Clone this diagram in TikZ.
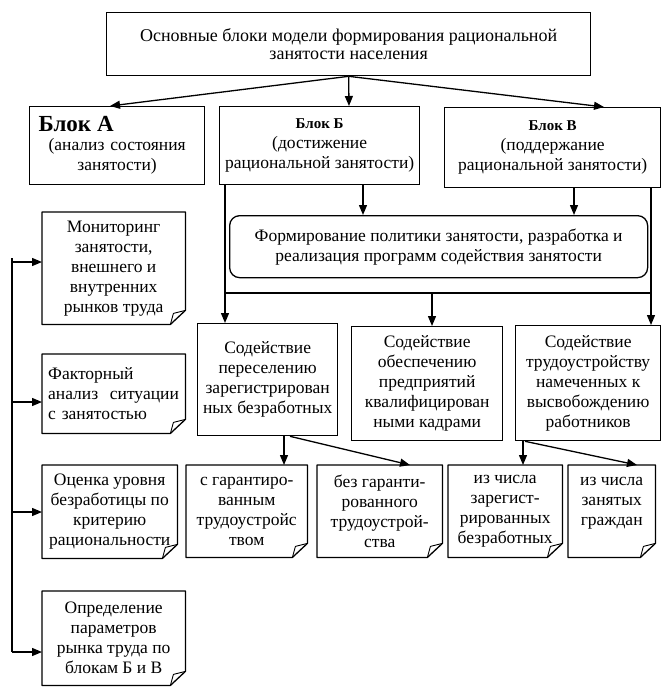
\documentclass[tikz,border=0pt]{standalone}
\usepackage{fontspec}
\setmainfont{Liberation Serif}
\usetikzlibrary{arrows.meta,calc}
\newcommand\foldnote[1]{%
  \draw[ln,line join=round] (#1.north west) -- (#1.north east) -- ([yshift=14pt]#1.south east)
    -- ([xshift=-15pt]#1.south east) -- (#1.south west) -- cycle;
  \draw[line width=0.9pt,line join=round] ([xshift=-15pt]#1.south east) -- ([xshift=-12pt,yshift=11pt]#1.south east)
    -- ([yshift=14pt]#1.south east);}
\begin{document}
\begin{tikzpicture}[x=1pt,y=-1pt,
  ln/.style={line width=1.3pt},
  base/.style={inner sep=0pt,anchor=north west,align=center,
    font=\fontsize{17.5}{20}\selectfont},
  box/.style={base,draw,line width=1.3pt},
  note/.style={base},
  arr/.style={line width=1.3pt,-{Triangle[length=10pt,width=8pt]}}]
\useasboundingbox (0,0) rectangle (667,694);

% top
\node[box,minimum width=484pt,minimum height=63pt,font=\fontsize{18}{18.5}\selectfont] (top) at (106,12)
  {Основные блоки модели формирования рациональной\\занятости населения};

% blocks
\node[box,minimum width=175pt,minimum height=78pt,text width=175pt] (A) at (29,106)
  {\makebox[175pt][l]{\hspace{9pt}\fontsize{23}{24}\selectfont\bfseries Блок А}\\[-1pt](анализ состояния\\занятости)};
\node[box,minimum width=200pt,minimum height=78pt] (B) at (219,106)
  {{\fontsize{15}{16}\selectfont\bfseries Блок Б}\\(достижение\\рациональной занятости)};
\node[box,minimum width=216pt,minimum height=80pt] (V) at (444,107)
  {{\fontsize{15}{16}\selectfont\bfseries Блок В}\\(поддержание\\рациональной занятости)};

% policy
\node[box,rounded corners=10pt,minimum width=418pt,minimum height=62pt] (pol) at (229,215)
  {Формирование политики занятости, разработка и\\реализация программ содействия занятости};

% left notes
\node[note,minimum width=143pt,minimum height=112pt] (mon) at (42,212)
  {Мониторинг\\занятости,\\внешнего и\\внутренних\\рынков труда};
\node[note,minimum width=143pt,minimum height=79pt,text width=131pt,align=left] (fak) at (42,354)
  {Факторный\\анализ\ \ ситуации\\с занятостью};
\node[note,minimum width=135pt,minimum height=93pt] (oc) at (42,465)
  {Оценка уровня\\безработицы по\\критерию\\рациональности};
\node[note,minimum width=143pt,minimum height=94pt] (opr) at (42,591)
  {Определение\\параметров\\рынка труда по\\блокам Б и В};

% middle row
\node[box,minimum width=140pt,minimum height=112pt] (P) at (197,323)
  {Содействие\\переселению\\зарегистрирован\\ных безработных};
\node[box,minimum width=151pt,minimum height=114pt] (O) at (351,326)
  {Содействие\\обеспечению\\предприятий\\квалифицирован\\ными кадрами};
\node[box,minimum width=145pt,minimum height=115pt] (T) at (515,325)
  {Содействие\\трудоустройству\\намеченных к\\высвобождению\\работников};

% bottom row notes
\node[note,minimum width=121pt,minimum height=92pt] (b1) at (186,465)
  {с гарантиро-\\ванным\\трудоустройс\\твом};
\node[note,minimum width=125pt,minimum height=92pt] (b2) at (317,465)
  {без гаранти-\\рованного\\трудоустрой-\\ства};
\node[note,minimum width=114pt,minimum height=92pt] (b3) at (448,465)
  {из числа\\зарегист-\\рированных\\безработных};
\node[note,minimum width=87pt,minimum height=92pt] (b4) at (568,465)
  {из числа\\занятых\\граждан\\\mbox{}};

\foreach \n in {mon,fak,oc,opr,b1,b2,b3,b4} {\foldnote{\n}}

% connectors top
\draw[arr] (top.south) -- ($(A.north west)+(81,0)$);
\draw[arr] (top.south) -- ($(B.north west)+(130,0)$);
\draw[arr] (top.south) -- ($(V.north west)+(160,0)$);

\coordinate (bl) at ($(B.south west)+(6,0)$);
\coordinate (bm) at ($(B.south west)+(144,0)$);
\coordinate (vm) at ($(V.south west)+(130,0)$);
\coordinate (vr) at ($(V.south west)+(207,0)$);
\coordinate (hm) at (432,293);

\draw[arr] (bl) -- (bl |- P.north);
\draw[arr] (bm) -- (bm |- pol.north);
\draw[arr] (vm) -- (vm |- pol.north);
\draw[arr] (vr) -- (vr |- T.north);
\draw[ln] (bl |- hm) -- (vr |- hm);
\draw[arr] (hm) -- (hm |- O.north);

\coordinate (p1) at ($(P.south west)+(87,0)$);
\coordinate (p2) at ($(P.south west)+(93,0)$);
\coordinate (t1) at ($(T.south west)+(8,0)$);
\coordinate (t2) at ($(T.south west)+(10,0)$);
\draw[arr] (p1) -- (p1 |- b1.north);
\draw[arr] (p2) -- ($(b2.north west)+(93,0)$);
\draw[arr] (t1) -- (t1 |- b3.north);
\draw[arr] (t2) -- ($(b4.north west)+(69,0)$);

% left bus
\coordinate (lt) at (12,258);
\coordinate (m1) at ($(mon.north west)+(0,50)$);
\coordinate (m2) at ($(fak.north west)+(0,48)$);
\coordinate (m3) at ($(oc.north west)+(0,47)$);
\coordinate (m4) at ($(opr.north west)+(0,61)$);
\draw[ln] (lt) -- (lt |- m4);
\draw[arr] (lt |- m1) -- (m1);
\draw[arr] (lt |- m2) -- (m2);
\draw[arr] (lt |- m3) -- (m3);
\draw[arr] (lt |- m4) -- (m4);
\end{tikzpicture}
\end{document}
